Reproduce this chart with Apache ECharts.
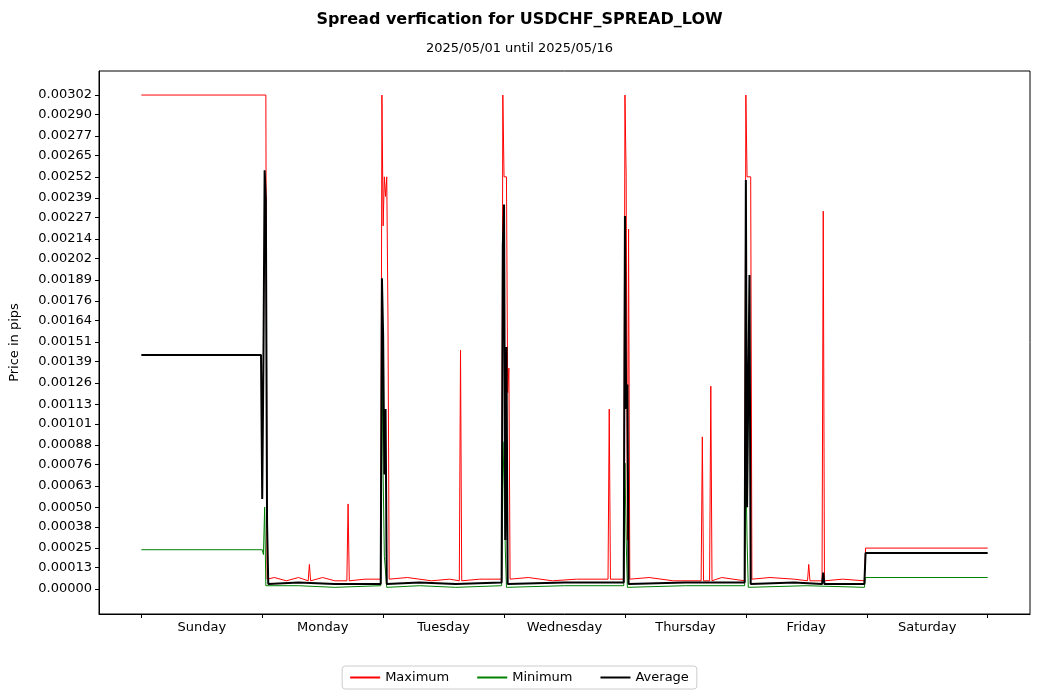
<!DOCTYPE html>
<html>
<head>
<meta charset="UTF-8">
<script src="https://cdn.jsdelivr.net/npm/echarts@6.0.0/dist/echarts.min.js"></script>
<style>
  body { margin: 0; background: #fff; }
  #chart { width: 1039px; height: 700px; }
</style>
</head>
<body>
<div id="chart"></div>
<script>
// x is measured in days from Sunday 00:00 (0..7)
const dayNames = ['Sunday', 'Monday', 'Tuesday', 'Wednesday', 'Thursday', 'Friday', 'Saturday'];
const yTicks = [0.00000, 0.00013, 0.00025, 0.00038, 0.00050, 0.00063, 0.00076, 0.00088, 0.00101,
  0.00113, 0.00126, 0.00139, 0.00151, 0.00164, 0.00176, 0.00189, 0.00202, 0.00214, 0.00227,
  0.00239, 0.00252, 0.00265, 0.00277, 0.00290, 0.00302];

const maxSeries = [
  [0, 0.00302], [1.03, 0.00302], [1.04, 0.00006], [1.1, 0.00007], [1.2, 0.00005], [1.3, 0.00007],
  [1.38, 0.00005], [1.39, 0.00015], [1.40, 0.00005], [1.5, 0.00007], [1.6, 0.00005], [1.70, 0.00005],
  [1.71, 0.00052], [1.72, 0.00005], [1.85, 0.00006], [1.98, 0.00006], [1.99, 0.00302], [2.0, 0.00222],
  [2.01, 0.00252], [2.02, 0.00240], [2.03, 0.00252], [2.04, 0.00165], [2.05, 0.00006], [2.2, 0.00007],
  [2.4, 0.00005], [2.55, 0.00006], [2.63, 0.00005], [2.64, 0.00146], [2.65, 0.00005], [2.8, 0.00006],
  [2.98, 0.00006], [2.99, 0.00302], [3.0, 0.00252], [3.02, 0.00252], [3.03, 0.00120], [3.04, 0.00135],
  [3.05, 0.00006], [3.2, 0.00007], [3.4, 0.00005], [3.6, 0.00006], [3.86, 0.00006], [3.87, 0.00110],
  [3.88, 0.00006], [3.99, 0.00006], [4.0, 0.00302], [4.01, 0.00252], [4.02, 0.00030], [4.03, 0.00220],
  [4.04, 0.00006], [4.2, 0.00007], [4.4, 0.00005], [4.63, 0.00005], [4.64, 0.00093], [4.65, 0.00005],
  [4.70, 0.00005], [4.71, 0.00124], [4.72, 0.00005], [4.8, 0.00007], [4.99, 0.00005], [5.0, 0.00302],
  [5.01, 0.00252], [5.04, 0.00252], [5.05, 0.00006], [5.2, 0.00007], [5.4, 0.00006], [5.51, 0.00005],
  [5.52, 0.00015], [5.53, 0.00005], [5.63, 0.00005], [5.64, 0.00231], [5.65, 0.00005], [5.8, 0.00006],
  [5.98, 0.00005], [5.99, 0.00025], [7, 0.00025]
];
const minSeries = [
  [0, 0.00024], [1.0, 0.00024], [1.01, 0.00021], [1.02, 0.00050], [1.03, 0.00002], [1.04, 0.00001],
  [1.3, 0.00002], [1.6, 0.00001], [1.98, 0.00002], [1.99, 0.00150], [2.0, 0.00070], [2.01, 0.00020],
  [2.03, 0.00001], [2.3, 0.00002], [2.6, 0.00001], [2.98, 0.00002], [2.99, 0.00060], [3.0, 0.00090],
  [3.01, 0.00025], [3.02, 0.00001], [3.5, 0.00002], [3.99, 0.00002], [4.0, 0.00077], [4.01, 0.00030],
  [4.02, 0.00001], [4.5, 0.00002], [4.99, 0.00002], [5.0, 0.00075], [5.01, 0.00030], [5.02, 0.00001],
  [5.5, 0.00002], [5.98, 0.00001], [5.99, 0.00007], [7, 0.00007]
];
const avgSeries = [
  [0, 0.00143], [0.99, 0.00143], [1.0, 0.00055], [1.01, 0.00140], [1.02, 0.00256], [1.03, 0.00238],
  [1.04, 0.00040], [1.05, 0.00003], [1.3, 0.00004], [1.6, 0.00003], [1.98, 0.00003], [1.99, 0.00190],
  [2.0, 0.00155], [2.01, 0.00070], [2.02, 0.00110], [2.03, 0.00003], [2.3, 0.00004], [2.6, 0.00003],
  [2.98, 0.00004], [2.99, 0.00210], [3.0, 0.00235], [3.01, 0.00030], [3.02, 0.00148], [3.03, 0.00003],
  [3.5, 0.00004], [3.99, 0.00004], [4.0, 0.00228], [4.01, 0.00110], [4.02, 0.00125], [4.03, 0.00003],
  [4.5, 0.00004], [4.99, 0.00004], [5.0, 0.00250], [5.01, 0.00050], [5.03, 0.00192], [5.04, 0.00003],
  [5.4, 0.00004], [5.63, 0.00003], [5.64, 0.00010], [5.65, 0.00003], [5.98, 0.00003], [5.99, 0.00022],
  [7, 0.00022]
];

const chart = echarts.init(document.getElementById('chart'));
const font = 'DejaVu Sans';
chart.setOption({
  animation: false,
  textStyle: { fontFamily: font },
  title: {
    text: 'Spread verfication for USDCHF_SPREAD_LOW',
    subtext: '2025/05/01 until 2025/05/16',
    left: 'center', top: 7, itemGap: 14,
    textStyle: { fontFamily: font, fontSize: 16, fontWeight: 'bold', color: '#000' },
    subtextStyle: { fontFamily: font, fontSize: 13, color: '#000' }
  },
  legend: {
    bottom: 11, left: 'center', itemWidth: 30, itemHeight: 2, itemGap: 28, icon: 'rect',
    borderColor: '#ccc', borderWidth: 1, borderRadius: 3, padding: [5, 8],
    textStyle: { fontFamily: font, fontSize: 13, color: '#000' },
    data: ['Maximum', 'Minimum', 'Average']
  },
  grid: { left: 97, right: 9, top: 71, bottom: 86, show: true, borderColor: '#000', borderWidth: 1 },
  xAxis: {
    type: 'value', min: -0.35, max: 7.35,
    splitLine: { show: false },
    axisLine: { onZero: false, lineStyle: { color: '#000' } },
    axisTick: { show: true, customValues: [0, 1, 2, 3, 4, 5, 6, 7], length: 4, lineStyle: { color: '#000' } },
    axisLabel: {
      customValues: [0.5, 1.5, 2.5, 3.5, 4.5, 5.5, 6.5], color: '#000', fontSize: 13, margin: 7,
      formatter: v => dayNames[Math.floor(v)]
    }
  },
  yAxis: {
    type: 'value', min: -0.000153, max: 0.003167,
    name: 'Price in pips', nameLocation: 'middle', nameGap: 78,
    nameTextStyle: { fontFamily: font, fontSize: 13, color: '#000' },
    splitLine: { show: false },
    axisLine: { show: true, onZero: false, lineStyle: { color: '#000' } },
    axisTick: { show: true, customValues: yTicks, length: 4, lineStyle: { color: '#000' } },
    axisLabel: { customValues: yTicks, color: '#000', fontSize: 13, margin: 7, formatter: v => v.toFixed(5) }
  },
  series: [
    { name: 'Maximum', type: 'line', data: maxSeries, symbol: 'none', color: '#ff0000', lineStyle: { width: 1 } },
    { name: 'Minimum', type: 'line', data: minSeries, symbol: 'none', color: '#008000', lineStyle: { width: 1 } },
    { name: 'Average', type: 'line', data: avgSeries, symbol: 'none', color: '#000000', lineStyle: { width: 2 } }
  ]
});
</script>
</body>
</html>
